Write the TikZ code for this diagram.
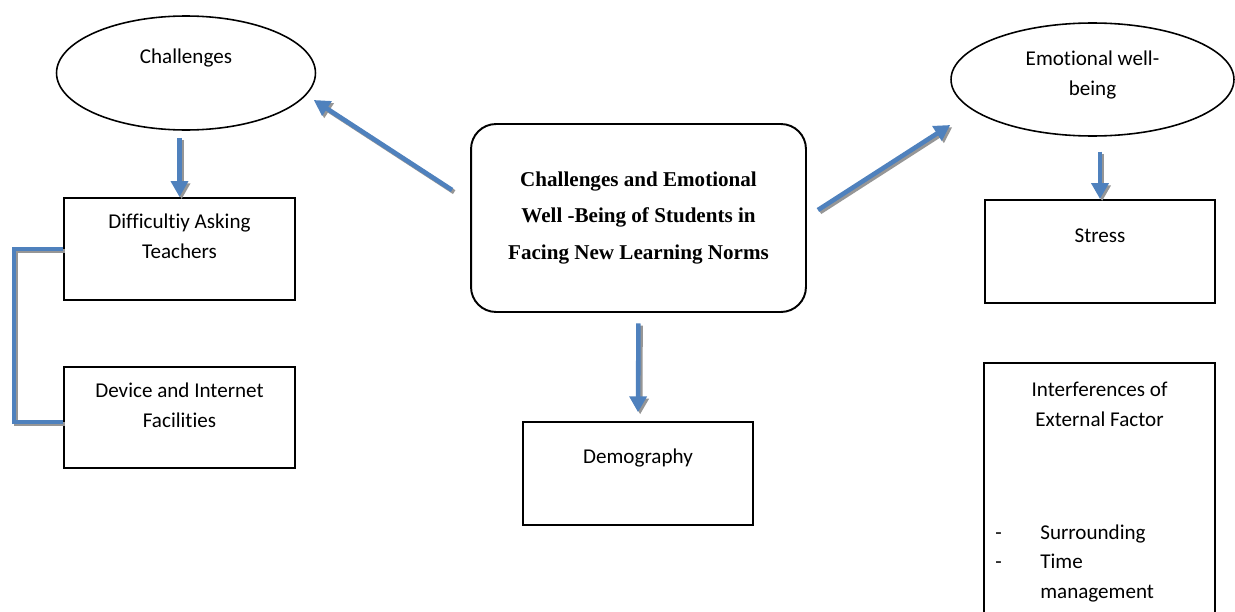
\documentclass[tikz,border=0pt]{standalone}
\usepackage{fontspec}
\setmainfont{Carlito}[Ligatures=NoCommon]
\newfontfamily\titlefont{Liberation Serif}
\usetikzlibrary{arrows.meta,positioning,shapes.geometric}
\definecolor{flowblue}{RGB}{79,129,189}
\definecolor{flowgray}{RGB}{150,150,150}
\tikzset{
  body/.style={font=\fontsize{12}{17}\selectfont, align=center, inner sep=0pt},
  oval/.style={ellipse, draw, line width=0.9pt, inner sep=0pt},
  box/.style={rectangle, draw, line width=1.1pt, inner sep=0pt},
  flow/.style={draw=flowblue, line width=2.6pt, -{Triangle[length=9pt,width=9.5pt]}},
  flowshadow/.style={flow, draw=flowgray, transform canvas={xshift=1.2pt,yshift=-1.2pt}},
}

\begin{document}
\begin{tikzpicture}[x=0.02cm, y=-0.02cm]
\useasboundingbox (0,0) rectangle (1235,612);

% main topic in the middle
\node[rectangle, rounded corners=0.5cm, draw, line width=1.1pt,
      minimum width=6.7cm, minimum height=3.76cm, align=center,
      font=\titlefont\bfseries\fontsize{12}{20.7}\selectfont] (core) at (638.5,218)
  {Challenges and Emotional\\Well -Being of Students in\\Facing New Learning Norms};

% left branch
\node[oval, minimum width=5.18cm, minimum height=2.28cm] (chal) at (186,73) {};
\node[body] at ([yshift=-0.86cm]chal.north) {Challenges};
\node[box, minimum width=4.62cm, minimum height=2.04cm] (diff) at (179.5,249) {};
\node[body] at ([yshift=-0.79cm]diff.north) {Difficultiy Asking\\Teachers};
\node[box, minimum width=4.62cm, minimum height=2.02cm] (dev) at (179.5,417.5) {};
\node[body] at ([yshift=-0.79cm]dev.north) {Device and Internet\\Facilities};

% bottom branch
\node[box, minimum width=4.6cm, minimum height=2.06cm] (demo) at (638,473.5) {};
\node[body] at ([yshift=-0.74cm]demo.north) {Demography};

% right branch
\node[oval, minimum width=5.66cm, minimum height=2.26cm] (emo) at (1092.5,79.5) {};
\node[body] at ([yshift=-1.06cm]emo.north) {Emotional well-\\being};
\node[box, minimum width=4.6cm, minimum height=2.06cm] (stress) at (1100,251.5) {};
\node[body] at ([yshift=-0.74cm]stress.north) {Stress};
\begin{scope}
\clip (0,0) rectangle (1235,612);
\node[box, minimum width=4.62cm, minimum height=5.34cm] (ext) at (1099.5,496.5) {};
\end{scope}
\node[body] at ([yshift=-0.84cm]ext.north) {Interferences of\\External Factor};
\node[body, anchor=west, align=left] at (995,563)
  {\begin{tabular}{@{}p{0.9cm}@{}l@{}}
   - & Surrounding\\
   - & Time\\
     & management
   \end{tabular}};

% free ends of the slanted arrows
\coordinate (ltail) at ([shift={(-0.36cm,0.56cm)}]core.west);
\coordinate (lhead) at ([shift={(-0.05cm,-0.54cm)}]chal.east);
\coordinate (rtail) at ([shift={(0.22cm,0.16cm)}]core.east);
\coordinate (rhead) at ([yshift=-0.91cm]emo.west);

% shadow first, then the blue line on top
\foreach \sty in {flowshadow, flow}{
  \draw[\sty] (ltail) -- (lhead);
  \draw[\sty] (rtail) -- (rhead);
  \draw[\sty, shorten <=4pt] (diff.north |- chal.south) -- (diff.north);
  \draw[\sty, shorten <=8.5pt] (stress.north |- emo.south) -- (stress.north);
  \draw[\sty, shorten <=6pt, shorten >=5pt] (core.south) -- (demo.north);
  \draw[\sty, -, line width=2.3pt] (diff.west) -- ++(-49,0) |- ([yshift=-0.09cm]dev.west);
}
\end{tikzpicture}
\end{document}
